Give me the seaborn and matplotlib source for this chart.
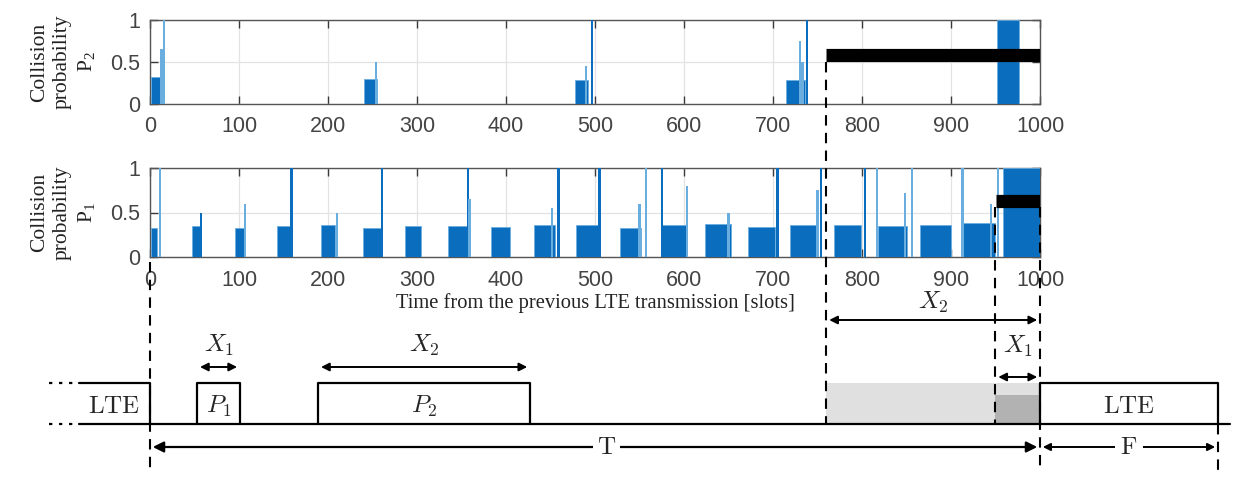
import matplotlib
matplotlib.use('Agg')
import matplotlib.pyplot as plt
import seaborn as sns

# top panel (P2): bursts of collision probability, start slot / end slot / level
p2_start = [1, 240, 478, 715, 952]
p2_end = [12, 255, 492, 736, 976]
p2_level = [0.32, 0.30, 0.29, 0.29, 1.0]
# top panel single slot spikes (light = 1 means pale blue)
p2_spike_pos = [13, 15.5, 254, 490, 497, 730, 733, 738]
p2_spike_val = [0.66, 1.0, 0.5, 0.45, 1.0, 0.75, 0.5, 1.0]
p2_spike_light = [1, 1, 1, 1, 0, 1, 1, 0]

# bottom panel (P1)
p1_start = [1, 47, 95, 143, 192, 239, 287, 335, 383, 431, 479, 528,
            575, 624, 672, 719, 768, 818, 865, 913, 958]
p1_end = [8, 57, 107, 159, 208, 260, 305, 357, 405, 455, 505, 552,
          603, 653, 702, 750, 799, 851, 900, 949, 1000]
p1_level = [0.33, 0.35, 0.33, 0.35, 0.36, 0.33, 0.35, 0.35, 0.34, 0.36, 0.36, 0.33,
            0.36, 0.37, 0.34, 0.36, 0.36, 0.35, 0.36, 0.38, 1.0]
p1_spike_pos = [11, 57, 107, 159, 210, 261, 357, 359, 452, 459, 505, 550, 557,
                575, 603, 650, 705, 750, 754, 803, 817, 848, 856, 913, 945, 953]
p1_spike_val = [1.0, 0.5, 0.6, 1.0, 0.5, 1.0, 1.0, 0.65, 0.55, 1.0, 1.0, 0.6, 1.0,
                1.0, 0.8, 0.5, 1.0, 0.75, 1.0, 1.0, 1.0, 0.72, 1.0, 1.0, 0.6, 1.0]
p1_spike_light = [1, 0, 1, 0, 1, 0, 0, 1, 1, 0, 0, 1, 1,
                  0, 1, 1, 0, 1, 0, 0, 1, 1, 1, 1, 1, 1]

# thick black marks (slot range, level)
p2_mark = ([760, 1000], 0.58)
p1_mark = ([950, 1000], 0.63)

xticks = list(range(0, 1001, 100))

sns.set_theme(style='ticks')
plt.rcParams['mathtext.fontset'] = 'cm'
plt.rcParams['font.family'] = ['Liberation Sans', 'DejaVu Sans']

dark = '#0b6dbd'
light = '#6aaee0'
W, H = 1234, 478
fig = plt.figure(figsize=(W / 100, H / 100), dpi=100)

L, R = 150 / W, 1040 / W
ax2 = fig.add_axes([L, 1 - 104 / H, R - L, 84 / H])
ax1 = fig.add_axes([L, 1 - 257 / H, R - L, 89 / H])


def panel(ax, st, en, lv, sp, sv, sl, mark, label):
    ax.bar(st, lv, width=[e - s for s, e in zip(st, en)], align='edge',
           color=dark, linewidth=0.6, edgecolor=light, zorder=3)
    ax.bar(sp, sv, width=2.6, color=[light if l else dark for l in sl],
           linewidth=0, zorder=3)
    ax.plot(mark[0], [mark[1], mark[1]], color='black', lw=9.5,
            solid_capstyle='butt', zorder=6)
    ax.set_xlim(0, 1000)
    ax.set_ylim(0, 1)
    ax.set_xticks(xticks)
    ax.set_yticks([0, 0.5, 1])
    ax.set_yticklabels(['0', '0.5', '1'])
    ax.grid(True, color='#e3e3e3', lw=0.9)
    ax.set_axisbelow(True)
    ax.tick_params(direction='in', top=True, right=True, length=6, width=1,
                   labelsize=15.5, labelcolor='#444444', color='#3a3a3a')
    ax.tick_params(axis='x', pad=9)
    ax.tick_params(axis='y', pad=7)
    for s in ax.spines.values():
        s.set_color('#555555')
        s.set_linewidth(1)
    ax.set_ylabel('Collision\nprobability\n$\\mathregular{P_{%s}}$' % label,
                  family=['Liberation Serif'], fontsize=15.5, linespacing=1.25,
                  color='#222222')
    ax.yaxis.set_label_coords(-53 / 890, 0.5)


panel(ax2, p2_start, p2_end, p2_level, p2_spike_pos, p2_spike_val, p2_spike_light, p2_mark, '2')
panel(ax1, p1_start, p1_end, p1_level, p1_spike_pos, p1_spike_val, p1_spike_light, p1_mark, '1')
ax1.set_xlabel('Time from the previous LTE transmission [slots]', family=['Liberation Serif'],
               fontsize=14.8, color='#222222', labelpad=2)

# timeline diagram, x in slots, y in pixels
ov = fig.add_axes([0, 0, 1, 1], zorder=5)
ov.set_xlim(-L / (R - L) * 1000, (1 - L) / (R - L) * 1000)
ov.set_ylim(H, 0)
ov.axis('off')
ov.patch.set_alpha(0)

top, base = 383, 424
k = dict(color='black', lw=1.6)
dash = dict(color='black', lw=1.5, ls=(0, (5, 3.5)))
ov.plot([-80, 0, 0], [top, top, base], **k)
ov.plot([-114, -86], [top, top], color='black', lw=1.6, ls=(0, (1.5, 3)))
ov.plot([-114, -86], [base, base], color='black', lw=1.6, ls=(0, (1.5, 3)))
ov.plot([-80, 1213], [base, base], **k)
ov.text(-40, 406, r'$\mathrm{LTE}$', ha='center', va='center', fontsize=18)

for a, b, nm, lab in [(53, 101, 'P_1', 'X_1'), (189, 427, 'P_2', 'X_2')]:
    ov.plot([a, a, b, b], [base, top, top, base], **k)
    ov.text((a + b) / 2, 406, '$%s$' % nm, ha='center', va='center', fontsize=18)
    ov.annotate('', xy=(a, 367), xytext=(b, 367),
                arrowprops=dict(arrowstyle='<|-|>', color='black', lw=1.4, mutation_scale=12))
    ov.text((a + b) / 2, 345, '$%s$' % lab, ha='center', va='center', fontsize=18)

ov.fill_between([760, 1000], top, base, color='#e0e0e0', lw=0, zorder=1)
ov.fill_between([950, 1000], 395, base, color='#b2b2b2', lw=0, zorder=1)
ov.plot([1000, 1000, 1200, 1200], [base, top, top, base], **k)
ov.text(1100, 406, r'$\mathrm{LTE}$', ha='center', va='center', fontsize=18)

ov.annotate('', xy=(760, 320), xytext=(1000, 320),
            arrowprops=dict(arrowstyle='<|-|>', color='black', lw=1.4, mutation_scale=12))
ov.text(880, 302, '$X_2$', ha='center', va='center', fontsize=18)
ov.annotate('', xy=(950, 377), xytext=(1000, 377),
            arrowprops=dict(arrowstyle='<|-|>', color='black', lw=1.4, mutation_scale=12))
ov.text(975, 346, '$X_1$', ha='center', va='center', fontsize=18)

ov.annotate('', xy=(1000, 447), xytext=(0, 447),
            arrowprops=dict(arrowstyle='<|-|>', color='black', lw=1.6, mutation_scale=16))
ov.text(513, 447, r'$\mathrm{T}$', ha='center', va='center', fontsize=18,
        bbox=dict(facecolor='white', edgecolor='none', pad=3))
ov.annotate('', xy=(1200, 447), xytext=(1000, 447),
            arrowprops=dict(arrowstyle='<|-|>', color='black', lw=1.4, mutation_scale=11))
ov.text(1100, 447, r'$\mathrm{F}$', ha='center', va='center', fontsize=18,
        bbox=dict(facecolor='white', edgecolor='none', pad=4))

ov.plot([0, 0], [262, 470], **dash)
ov.plot([760, 760], [62, base], **dash)
ov.plot([950, 950], [207, base], **dash)
ov.plot([1000, 1000], [207, 470], **dash)
ov.plot([1200, 1200], [base, 470], **dash)

fig.savefig('out.png', dpi=100)
